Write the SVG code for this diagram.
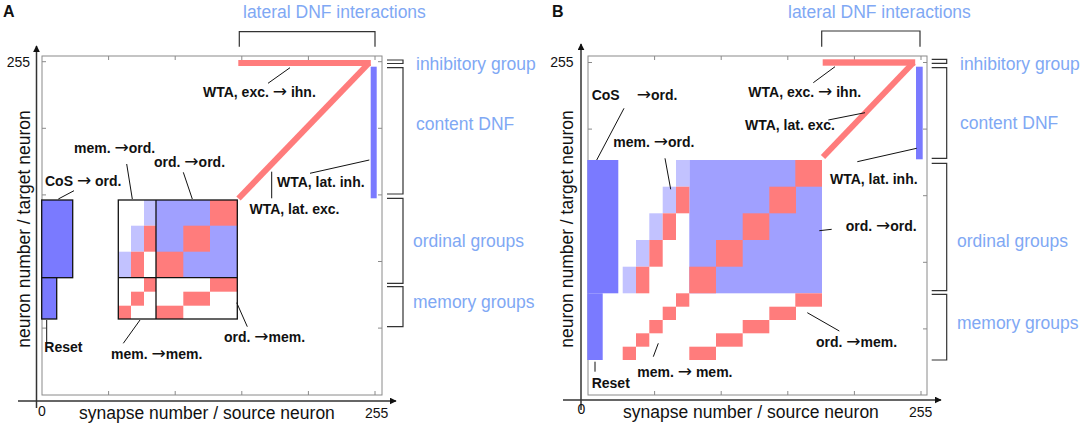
<svg xmlns="http://www.w3.org/2000/svg" width="1084" height="429" viewBox="0 0 1084 429">
<style>
.frame{fill:none;stroke:#8a8a8a;stroke-width:1}
.tick{stroke:#8a8a8a;stroke-width:1}
.axis{stroke:#333;stroke-width:1.5;fill:none}
.br{fill:none;stroke:#333;stroke-width:1.2}
.lead{stroke:#111;stroke-width:1;fill:none}
.lbl{font-family:"Liberation Sans",Arial,sans-serif;font-size:14px;font-weight:bold;fill:#111}
.ar{font-family:"DejaVu Sans",sans-serif;font-weight:normal;font-size:17px}
.grp{font-family:"Liberation Sans",Arial,sans-serif;font-size:17.5px;fill:#80a8f4}
.ax{font-family:"Liberation Sans",Arial,sans-serif;font-size:17.5px;fill:#111}
.num{font-family:"Liberation Sans",Arial,sans-serif;font-size:14px;fill:#111}
.pl{font-family:"Liberation Sans",Arial,sans-serif;font-size:16px;font-weight:bold;fill:#111}
.r{fill:#ff7c7c}
.b{fill:#a0a0ff}
.lb{fill:#c2c2ff}
.db{fill:#7a7aff}
.box{fill:none;stroke:#111;stroke-width:1.3}
.band{stroke:#ff7c7c;stroke-width:6;fill:none}
</style>
<defs>
<marker id="ah" viewBox="0 0 10 10" refX="9" refY="5" markerWidth="7" markerHeight="7" markerUnits="userSpaceOnUse" orient="auto"><path d="M0,0 L10,5 L0,10 z" fill="#111"/></marker>
</defs>
<rect width="1084" height="429" fill="#fff"/>

<!-- ================= PANEL A ================= -->
<g id="panelA">
<text class="pl" x="3" y="17">A</text>
<g id="A-axes">
<rect class="frame" x="42" y="56" width="340" height="339"/>
<path class="tick" d="M108.6,56v4M175.2,56v4M241.8,56v4M308.4,56v4M375,56v4M108.6,395v-4M175.2,395v-4M241.8,395v-4M308.4,395v-4M375,395v-4M42,61.7h4M42,128.3h4M42,194.9h4M42,261.5h4M42,328.1h4M382,61.7h-4M382,128.3h-4M382,194.9h-4M382,261.5h-4M382,328.1h-4"/>
<line class="axis" x1="36.5" y1="408" x2="36.5" y2="46" marker-end="url(#ah)"/>
<line class="axis" x1="18" y1="401" x2="396" y2="401" marker-end="url(#ah)"/>
<text class="num" x="30" y="66.5" text-anchor="end">255</text>
<text class="num" x="38" y="416">0</text>
<text class="num" x="365" y="418">255</text>
<text class="ax" transform="translate(29.5,229) rotate(-90)" text-anchor="middle">neuron number / target neuron</text>
<text class="ax" x="79" y="419">synapse number / source neuron</text>
</g>
<g id="A-cos-reset">
<rect class="db" x="41.7" y="200" width="31" height="77.7" stroke="#111" stroke-width="1.3"/>
<rect class="db" x="41.7" y="277.7" width="15" height="41.3" stroke="#111" stroke-width="1.3"/>
</g>
<g id="A-matrix">
<rect class="lb" x="144" y="200" width="12" height="25.7"/>
<rect class="lb" x="131" y="225.7" width="13" height="26"/>
<rect class="lb" x="118.3" y="251.7" width="12.7" height="26"/>
<rect class="r" x="144" y="225.7" width="12" height="26"/>
<rect class="r" x="131" y="251.7" width="13" height="26"/>
<rect class="b" x="156" y="200" width="81.3" height="77.7"/>
<rect class="r" x="210" y="200" width="27.3" height="25.7"/>
<rect class="r" x="183.3" y="225.7" width="26.7" height="26"/>
<rect class="r" x="156" y="251.7" width="27.3" height="26"/>
<rect class="r" x="144" y="277.7" width="12" height="14"/>
<rect class="r" x="131" y="291.7" width="13" height="14"/>
<rect class="r" x="118.3" y="305.7" width="12.7" height="13.3"/>
<rect class="r" x="210" y="277.7" width="27.3" height="14"/>
<rect class="r" x="183.3" y="291.7" width="26.7" height="14"/>
<rect class="r" x="156" y="305.7" width="27.3" height="13.3"/>
<rect class="box" x="118.3" y="200" width="119" height="119"/>
<path class="box" d="M156,200V319M118.3,277.7H237.3"/>
</g>
<g id="A-wta">
<rect class="r" x="238.3" y="60" width="132.5" height="6"/>
<line class="band" x1="238.5" y1="198.5" x2="369" y2="63"/>
<rect class="db" x="370.7" y="66.7" width="6" height="131.6"/>
</g>
<g id="A-brackets">
<path class="br" d="M239.3,46.7V31.7H375V46.7"/>
<path class="br" d="M387,60H403V63.5H387"/>
<path class="br" d="M387,67.7H403V194H387"/>
<path class="br" d="M387,198.3H403V283.3H387"/>
<path class="br" d="M387,286.7H403V326.7H387"/>
<text class="grp" x="243" y="17.5">lateral DNF interactions</text>
<text class="grp" x="416" y="69.5">inhibitory group</text>
<text class="grp" x="416" y="129.5">content DNF</text>
<text class="grp" x="413" y="247">ordinal groups</text>
<text class="grp" x="413" y="308">memory groups</text>
</g>
</g>

<!-- ================= PANEL B ================= -->
<g id="panelB">
<text class="pl" x="552" y="17">B</text>
<g id="B-axes">
<rect class="frame" x="588" y="56" width="339" height="339"/>
<path class="tick" d="M654.6,56v4M721.2,56v4M787.8,56v4M854.4,56v4M921,56v4M654.6,395v-4M721.2,395v-4M787.8,395v-4M854.4,395v-4M921,395v-4M588,62.5h4M588,129.1h4M588,195.7h4M588,262.3h4M588,328.9h4M927,62.5h-4M927,129.1h-4M927,195.7h-4M927,262.3h-4M927,328.9h-4"/>
<line class="axis" x1="581" y1="410" x2="581" y2="44" marker-end="url(#ah)"/>
<line class="axis" x1="563" y1="400" x2="941" y2="400" marker-end="url(#ah)"/>
<text class="num" x="573.5" y="67" text-anchor="end">255</text>
<text class="num" x="577.5" y="414">0</text>
<text class="num" x="909" y="417">255</text>
<text class="ax" transform="translate(573,229) rotate(-90)" text-anchor="middle">neuron number / target neuron</text>
<text class="ax" x="623" y="418">synapse number / source neuron</text>
</g>
<g id="B-cos-reset">
<rect class="db" x="587.3" y="160" width="31" height="133.3"/>
<rect class="db" x="587.3" y="293.3" width="15.4" height="66.7"/>
</g>
<g id="B-matrix">
<rect class="b" x="689.3" y="160" width="132.7" height="133.3"/>
<rect class="r" x="795.3" y="160" width="26.7" height="26.7"/>
<rect class="r" x="769.3" y="186.7" width="26.7" height="26.6"/>
<rect class="r" x="742.7" y="213.3" width="26.6" height="26.7"/>
<rect class="r" x="716" y="240" width="26.7" height="26.7"/>
<rect class="r" x="689.3" y="266.7" width="26.7" height="26.6"/>
<rect class="lb" x="676" y="160" width="13.3" height="26.7"/>
<rect class="lb" x="662.7" y="186.7" width="13.3" height="26.6"/>
<rect class="lb" x="649.3" y="213.3" width="13.4" height="26.7"/>
<rect class="lb" x="636" y="240" width="13.3" height="26.7"/>
<rect class="lb" x="622.7" y="266.7" width="13.3" height="26.6"/>
<rect class="r" x="676" y="186.7" width="13.3" height="26.6"/>
<rect class="r" x="662.7" y="213.3" width="13.3" height="26.7"/>
<rect class="r" x="649.3" y="240" width="13.4" height="26.7"/>
<rect class="r" x="636" y="266.7" width="13.3" height="26.6"/>
<rect class="r" x="676" y="293.3" width="13.3" height="13.4"/>
<rect class="r" x="662.7" y="306.7" width="13.3" height="13.3"/>
<rect class="r" x="649.3" y="320" width="13.4" height="13.3"/>
<rect class="r" x="636" y="333.3" width="13.3" height="13.4"/>
<rect class="r" x="622.7" y="346.7" width="13.3" height="13.3"/>
<rect class="r" x="795.3" y="293.3" width="26.7" height="13.4"/>
<rect class="r" x="769.3" y="306.7" width="26.7" height="13.3"/>
<rect class="r" x="742.7" y="320" width="26.6" height="13.3"/>
<rect class="r" x="716" y="333.3" width="26.7" height="13.4"/>
<rect class="r" x="689.3" y="346.7" width="26.7" height="13.3"/>
</g>
<g id="B-wta">
<rect class="r" x="822.7" y="59.3" width="92.5" height="6.4"/>
<line class="band" x1="823" y1="157" x2="913.5" y2="62.5"/>
<rect class="db" x="916" y="66.7" width="6.7" height="92.6"/>
</g>
<g id="B-brackets">
<path class="br" d="M821.7,46.7V31H920V46.7"/>
<path class="br" d="M931.7,59.3H946.7V63.3H931.7"/>
<path class="br" d="M931.7,67.7H946.7V158.3H931.7"/>
<path class="br" d="M931.7,163.3H946.7V290.7H931.7"/>
<path class="br" d="M931.7,294.3H946.7V360H931.7"/>
<text class="grp" x="788" y="17.5">lateral DNF interactions</text>
<text class="grp" x="960" y="69.5">inhibitory group</text>
<text class="grp" x="960" y="128.5">content DNF</text>
<text class="grp" x="957" y="247">ordinal groups</text>
<text class="grp" x="957" y="329">memory groups</text>
</g>
</g>

<!-- ================= CONNECTORS (leader lines) ================= -->
<g id="connectors">
<path class="lead" d="M268,83.3L290,67.7"/>
<path class="lead" d="M310,173.3L369.3,160"/>
<path class="lead" d="M271.7,171.7V198.3"/>
<path class="lead" d="M183.3,172.3L192.3,199"/>
<path class="lead" d="M126.7,164L132.3,199"/>
<path class="lead" d="M58.3,199L74,190.7"/>
<path class="lead" d="M46.7,320V343.3"/>
<path class="lead" d="M123.3,343.3L140,320"/>
<path class="lead" d="M236.7,302.7L247.3,326.7"/>
<path class="lead" d="M596.7,160L624,108.3"/>
<path class="lead" d="M665,158.3L670.7,189.3"/>
<path class="lead" d="M813.3,82.7L835,66.7"/>
<path class="lead" d="M828.3,120L865,112.7"/>
<path class="lead" d="M857.3,161.7L916.7,148.3"/>
<path class="lead" d="M819.3,230.7L831.7,229.3"/>
<path class="lead" d="M807.3,312.7L839.3,331"/>
<path class="lead" d="M653.3,356.7L658.3,343.3"/>
<path class="lead" d="M595,361.7V371.7"/>
</g>

<!-- ================= LABELS ================= -->
<g id="labelsA">
<text class="lbl" x="203" y="97">WTA, exc. <tspan class="ar">→</tspan> ihn.</text>
<text class="lbl" x="277" y="187">WTA, lat. inh.</text>
<text class="lbl" x="249.5" y="213.5">WTA, lat. exc.</text>
<text class="lbl" x="154" y="166.5">ord. <tspan class="ar">→</tspan>ord.</text>
<text class="lbl" x="74" y="152.5">mem. <tspan class="ar">→</tspan>ord.</text>
<text class="lbl" x="45" y="185.5">CoS <tspan class="ar">→</tspan> ord.</text>
<text class="lbl" x="44.3" y="351.5">Reset</text>
<text class="lbl" x="111" y="358.5">mem. <tspan class="ar">→</tspan>mem.</text>
<text class="lbl" x="224" y="341.5">ord. <tspan class="ar">→</tspan>mem.</text>
</g>
<g id="labelsB">
<text class="lbl" x="591.7" y="100">CoS<tspan class="ar" x="636.7">→</tspan>ord.</text>
<text class="lbl" x="613.3" y="146.7">mem. <tspan class="ar">→</tspan>ord.</text>
<text class="lbl" x="748.3" y="97">WTA, exc. <tspan class="ar">→</tspan> ihn.</text>
<text class="lbl" x="745" y="130">WTA, lat. exc.</text>
<text class="lbl" x="830" y="184">WTA, lat. inh.</text>
<text class="lbl" x="845.7" y="230.7">ord. <tspan class="ar">→</tspan>ord.</text>
<text class="lbl" x="816" y="346.7">ord. <tspan class="ar">→</tspan>mem.</text>
<text class="lbl" x="637.3" y="376.7">mem. <tspan class="ar">→</tspan> mem.</text>
<text class="lbl" x="591.7" y="388.3">Reset</text>
</g>
</svg>
